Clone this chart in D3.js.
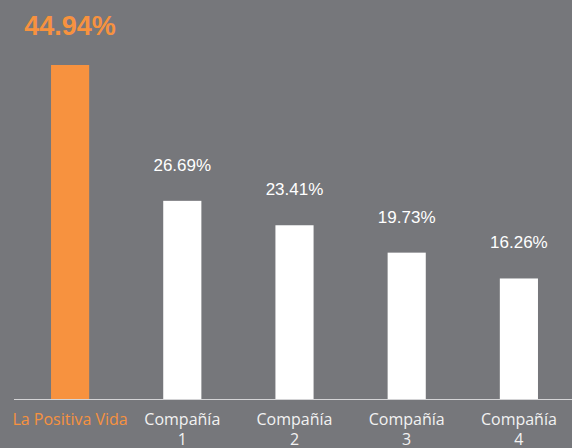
<!DOCTYPE html>
<html>
<head>
<meta charset="utf-8">
<script src="https://cdn.jsdelivr.net/npm/d3@7"></script>
<style>
  html, body { margin: 0; padding: 0; background: #76777b; }
  svg { display: block; }
</style>
</head>
<body>
<svg id="chart"></svg>
<script>
var categories = ["La Positiva Vida", "Compañía 1", "Compañía 2", "Compañía 3", "Compañía 4"];
var values = [44.94, 26.69, 23.41, 19.73, 16.26];
var valueLabels = ["44.94%", "26.69%", "23.41%", "19.73%", "16.26%"];

var width = 572, height = 448;
var baseline = 399.5;
var orange = "#f7923f";

var svg = d3.select("#chart")
    .attr("width", width)
    .attr("height", height);

svg.append("rect")
    .attr("width", width).attr("height", height)
    .attr("fill", "#76777b");

var x = d3.scaleBand()
    .domain(categories)
    .range([14, 575])
    .paddingInner(0.66)
    .paddingOuter(0.33);

var y = d3.scaleLinear()
    .domain([0, 44.94])
    .range([baseline, 65]);

// bars
svg.selectAll("rect.bar")
    .data(values)
    .enter().append("rect")
    .attr("class", "bar")
    .attr("x", function (d, i) { return x(categories[i]); })
    .attr("y", function (d) { return y(d); })
    .attr("width", x.bandwidth())
    .attr("height", function (d) { return baseline - y(d); })
    .attr("fill", function (d, i) { return i === 0 ? orange : "#ffffff"; });

// baseline
svg.append("line")
    .attr("x1", 14).attr("x2", width)
    .attr("y1", baseline).attr("y2", baseline)
    .attr("stroke", "#d4d4d6")
    .attr("stroke-width", 1);

// value labels
svg.selectAll("text.value")
    .data(values)
    .enter().append("text")
    .attr("class", "value")
    .attr("x", function (d, i) { return x(categories[i]) + x.bandwidth() / 2; })
    .attr("y", function (d) { return y(d) - 30; })
    .attr("text-anchor", "middle")
    .style("font-family", "'Liberation Sans', Arial, sans-serif")
    .style("font-size", function (d, i) { return i === 0 ? "27px" : "17px"; })
    .style("font-weight", function (d, i) { return i === 0 ? "bold" : "normal"; })
    .attr("fill", function (d, i) { return i === 0 ? orange : "#ffffff"; })
    .text(function (d, i) { return valueLabels[i]; });

// category labels
var cat = svg.selectAll("text.cat")
    .data(categories)
    .enter().append("text")
    .attr("class", "cat")
    .attr("x", function (d) { return x(d) + x.bandwidth() / 2; })
    .attr("y", 425)
    .attr("text-anchor", "middle")
    .style("font-family", "'Open Sans', 'DejaVu Sans', sans-serif")
    .style("font-size", "16px")
    .attr("fill", function (d, i) { return i === 0 ? orange : "#f2f2f2"; });

cat.each(function (d, i) {
    var t = d3.select(this);
    if (i === 0) {
        t.text(d);
    } else {
        var parts = d.split(" ");
        t.append("tspan").attr("x", t.attr("x")).text(parts[0]);
        t.append("tspan").attr("x", t.attr("x")).attr("dy", 20).text(parts[1]);
    }
});
</script>
</body>
</html>
